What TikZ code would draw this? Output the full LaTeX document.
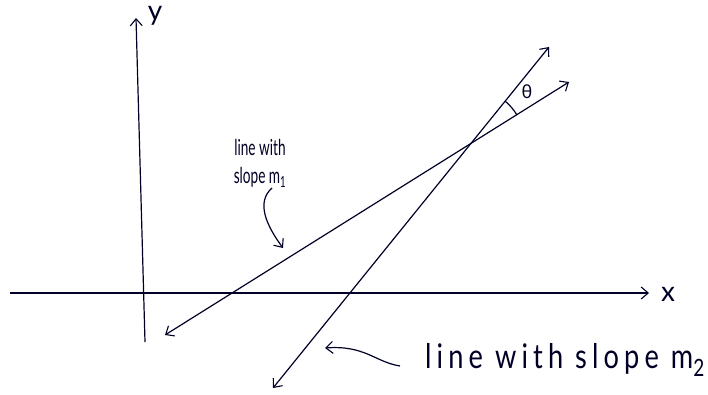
\documentclass[tikz,border=0pt]{standalone}
\usepackage{fontspec}
\setmainfont{Lato}
\newfontfamily\grkfont{Noto Sans}
\usetikzlibrary{arrows.meta}
\begin{document}
\begin{tikzpicture}[x=1pt,y=-1pt,
  ink/.style={line width=1.2pt,draw=black!85!blue},
  barb/.style={arrows={-Straight Barb[length=7pt,width=12pt,line width=1.1pt]}},
  barbs/.style={arrows={Straight Barb[length=7pt,width=12pt,line width=1.1pt]-Straight Barb[length=7pt,width=12pt,line width=1.1pt]}},
  hand/.style={text=black!85!blue,inner sep=0pt},
  bighand/.style={hand,font=\fontsize{34}{36}\selectfont\addfontfeature{FakeStretch=0.8,LetterSpace=15}},
  smallhand/.style={hand,font=\fontsize{22}{28}\selectfont\addfontfeature{FakeStretch=0.62}}]
\useasboundingbox (0,0) rectangle (708,394);
% axes
\coordinate (xs) at (10,293);
\coordinate (xe) at (649,293);
\coordinate (ys) at (145,342);
\coordinate (ye) at (136,18);
\draw[ink,barb] (xs) -- (xe);
\draw[ink,barb] (ys) -- (ye);
\node[hand,font=\fontsize{28}{30}\selectfont] (xl) at (668,294) {x};
\node[hand,font=\fontsize{28}{30}\selectfont] (yl) at (155,16) {y};
% lines
\coordinate (m1a) at (165,335);
\coordinate (m1b) at (569,82);
\coordinate (m2a) at (273,388);
\coordinate (m2b) at (549,47);
\draw[ink,barbs] (m1a) -- (m1b);
\draw[ink,barbs] (m2a) -- (m2b);
% angle
\draw[ink] (505,101) .. controls (509.8,104.9) and (513.7,109.8) .. (517,115);
\node[hand,font=\grkfont\fontsize{18}{20}\selectfont] (th) at (527,92) {θ};
% labels
\node[smallhand,align=center] (l1) at (260,163) {line with\\slope m\textsubscript{1}};
\draw[ink,barb] (272,188) .. controls (256,202) and (266,225) .. (283,248);
\node[bighand,anchor=base west] (l2) at (425,368) {line with slope m\textsubscript{2}};
\draw[ink,barb] (400,366) .. controls (375,362) and (365,345) .. (325,348);
\end{tikzpicture}
\end{document}
